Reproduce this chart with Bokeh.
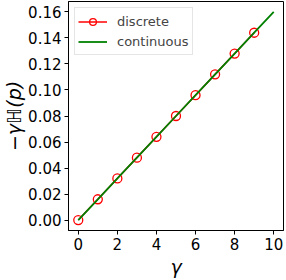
from bokeh.plotting import figure
from bokeh.models import Range1d, FixedTicker, PrintfTickFormatter
from bokeh.embed import file_html
from bokeh.resources import INLINE

# data
gamma_discrete = [0, 1, 2, 3, 4, 5, 6, 7, 8, 9]
value_discrete = [0.0, 0.016, 0.032, 0.048, 0.064, 0.080, 0.096, 0.112, 0.128, 0.144]
gamma_continuous = [0, 1, 2, 3, 4, 5, 6, 7, 8, 9, 10]
value_continuous = [0.0, 0.016, 0.032, 0.048, 0.064, 0.080, 0.096, 0.112, 0.128, 0.144, 0.160]
x_ticks = [0, 2, 4, 6, 8, 10]
y_ticks = [0.00, 0.02, 0.04, 0.06, 0.08, 0.10, 0.12, 0.14, 0.16]

FONT = "DejaVu Sans"

p = figure(width=286, height=280, output_backend="svg", toolbar_location=None,
           x_range=Range1d(-0.5, 10.5), y_range=Range1d(-0.008, 0.168),
           min_border_left=68, min_border_right=3, min_border_top=1, min_border_bottom=48)

p.line(gamma_discrete, value_discrete, color="#ff0000", line_width=1.5, legend_label="discrete")
p.scatter(gamma_discrete, value_discrete, marker="circle", size=9, fill_color=None,
          line_color="#ff0000", line_width=1.3, legend_label="discrete")
p.line(gamma_continuous, value_continuous, color="#008000", line_width=1.8, legend_label="continuous")

p.xgrid.visible = False
p.ygrid.visible = False
p.outline_line_color = "black"
p.outline_line_width = 1
p.background_fill_color = "white"
p.border_fill_color = "white"

p.xaxis.ticker = FixedTicker(ticks=x_ticks)
p.yaxis.ticker = FixedTicker(ticks=y_ticks)
p.yaxis.formatter = PrintfTickFormatter(format="%.2f")

for ax in (p.xaxis[0], p.yaxis[0]):
    ax.major_tick_in = 0
    ax.major_tick_out = 4
    ax.minor_tick_in = 0
    ax.minor_tick_out = 0
    ax.major_label_text_font = FONT
    ax.major_label_text_font_size = "15px"
    ax.major_label_text_color = "black"
    ax.axis_line_color = "black"
    ax.major_tick_line_color = "black"
    ax.axis_label_text_font = FONT
    ax.axis_label_text_font_size = "19px"
    ax.axis_label_text_font_style = "italic"
    ax.axis_label_text_color = "black"
    ax.major_label_standoff = 3
    ax.axis_label_standoff = 3

p.yaxis.axis_label_standoff = 0
p.yaxis.major_label_standoff = 3

p.xaxis.axis_label = "γ"
p.yaxis.axis_label = "−γℍ(p)"

lg = p.legend[0]
lg.location = "top_left"
lg.label_text_font = FONT
lg.label_text_font_size = "13px"
lg.border_line_color = "#cccccc"
lg.background_fill_alpha = 0.8
lg.margin = 6
lg.padding = 3
lg.spacing = 0
lg.glyph_width = 29
lg.glyph_height = 17
lg.label_height = 20
lg.label_standoff = 10

open("out.html", "w").write(file_html(p, INLINE))
